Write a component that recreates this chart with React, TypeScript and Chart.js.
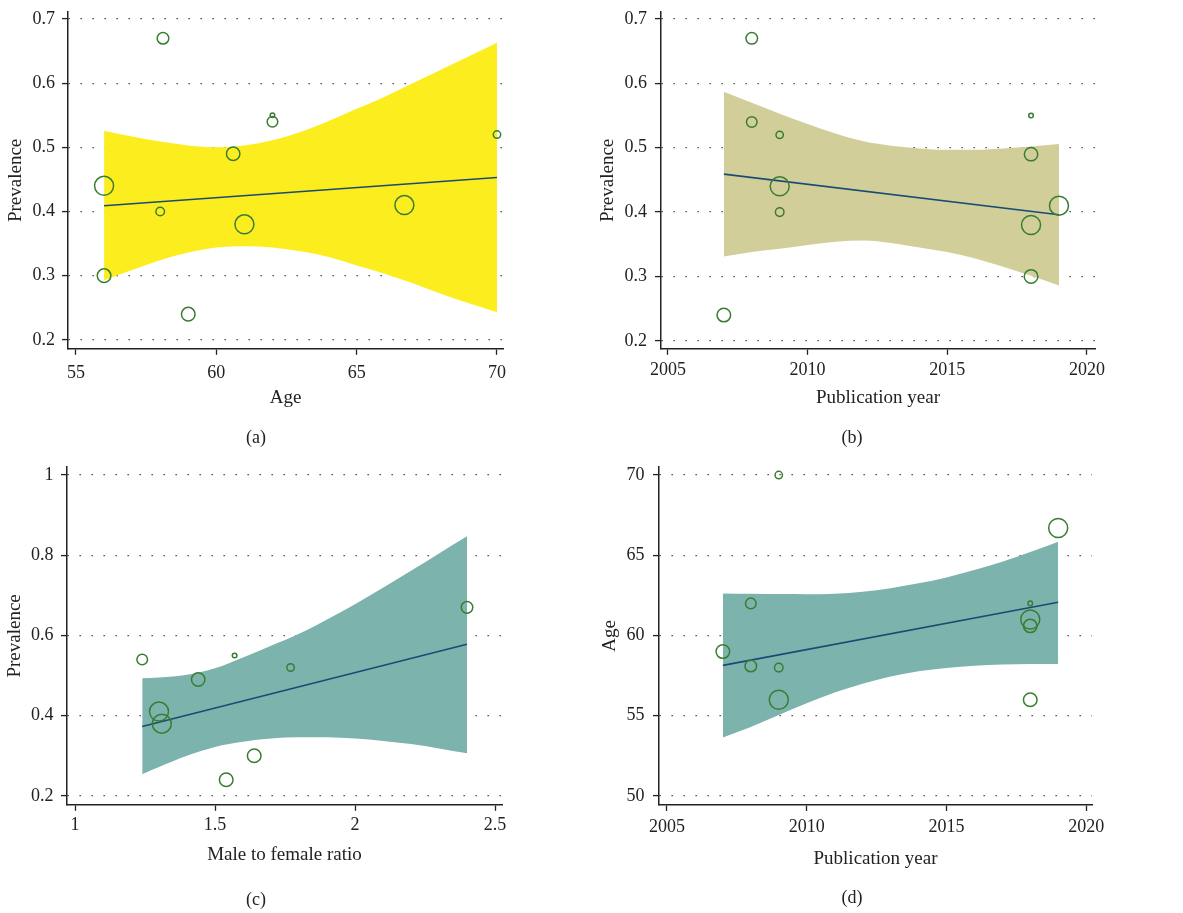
import React, { useEffect, useRef } from 'react';
import { Chart, registerables } from 'chart.js';

Chart.register(...registerables);

const FONT = "'Liberation Serif', 'Times New Roman', serif";
const TEXT = '#222222';
const AXIS = '#222222';
const GREEN = '#3a7d32';
const NAVY = '#1a4b73';

// ---- Study-level data (one entry per study) ----
const studyAge = [58.1, 62, 70, 56, 58, 59, 62, 60.6, 61, 56, 66.7];
const studyYear = [2008, 2008, 2009, 2009, 2009, 2007, 2018, 2018, 2018, 2018, 2019];
const studyPrevalence = [0.67, 0.54, 0.52, 0.44, 0.4, 0.24, 0.55, 0.49, 0.38, 0.3, 0.41];
const studyRatio: (number | null)[] = [2.4, 1.24, 1.77, null, null, 1.54, 1.57, 1.44, 1.31, 1.64, 1.3];
const studyWeight = [5.8, 5.3, 3.7, 9.5, 4.3, 6.8, 2.3, 6.7, 9.5, 6.8, 9.5];

// ---- (a) Prevalence vs Age ----
const ageBandX = [56, 57, 58, 59, 60, 61, 62, 63, 64, 65, 66, 67, 68, 69, 70];
const ageBandUpper = [0.526, 0.517, 0.509, 0.503, 0.5, 0.503, 0.511, 0.524, 0.541, 0.56, 0.579, 0.6, 0.621, 0.642, 0.663];
const ageBandLower = [0.293, 0.309, 0.324, 0.336, 0.344, 0.346, 0.344, 0.338, 0.329, 0.316, 0.303, 0.288, 0.272, 0.257, 0.243];
const ageFitX = [56, 70];
const ageFitY = [0.409, 0.453];

// ---- (b) Prevalence vs Publication year ----
const yearBandX = [2007, 2008, 2009, 2010, 2011, 2012, 2013, 2014, 2015, 2016, 2017, 2018, 2019];
const yearPrevUpper = [0.587, 0.57, 0.553, 0.537, 0.522, 0.51, 0.503, 0.499, 0.497, 0.497, 0.499, 0.502, 0.506];
const yearPrevLower = [0.331, 0.338, 0.343, 0.349, 0.354, 0.356, 0.352, 0.345, 0.338, 0.328, 0.315, 0.301, 0.286];
const yearPrevFitX = [2007, 2019];
const yearPrevFitY = [0.459, 0.396];

// ---- (c) Prevalence vs Male to female ratio ----
const ratioBandX = [1.24, 1.3, 1.4, 1.5, 1.6, 1.7, 1.8, 1.9, 2.0, 2.1, 2.2, 2.3, 2.4];
const ratioBandUpper = [0.493, 0.495, 0.502, 0.518, 0.545, 0.574, 0.604, 0.64, 0.678, 0.719, 0.761, 0.804, 0.847];
const ratioBandLower = [0.254, 0.272, 0.3, 0.322, 0.335, 0.343, 0.346, 0.346, 0.343, 0.337, 0.329, 0.318, 0.306];
const ratioFitX = [1.24, 2.4];
const ratioFitY = [0.373, 0.578];

// ---- (d) Age vs Publication year ----
const yearAgeUpper = [62.62, 62.6, 62.58, 62.57, 62.6, 62.72, 62.95, 63.25, 63.62, 64.08, 64.6, 65.2, 65.85];
const yearAgeLower = [53.65, 54.3, 55.05, 55.78, 56.45, 57.0, 57.45, 57.78, 57.98, 58.12, 58.2, 58.23, 58.22];
const yearAgeFitX = [2007, 2019];
const yearAgeFitY = [58.14, 62.07];

// ---- Tick labels ----
const ageTicks = [55, 60, 65, 70];
const yearTicks = [2005, 2010, 2015, 2020];
const ratioTicks = [1, 1.5, 2, 2.5];
const prevTicksAB = [0.2, 0.3, 0.4, 0.5, 0.6, 0.7];
const prevTicksC = [0.2, 0.4, 0.6, 0.8, 1];
const ageTicksD = [50, 55, 60, 65, 70];

type Pt = { x: number; y: number };

const zipPts = (xs: number[], ys: number[]): Pt[] => xs.map((x, i) => ({ x, y: ys[i] }));

const bubbles = (xs: (number | null)[], ys: number[]) =>
  xs
    .map((x, i) => (x === null ? null : { x, y: ys[i], r: studyWeight[i] }))
    .filter((p) => p !== null) as { x: number; y: number; r: number }[];

type Spec = {
  key: string;
  left: number;
  top: number;
  w: number;
  h: number;
  caption: string;
  xTitle: string;
  yTitle: string;
  xMin: number;
  xMax: number;
  yMin: number;
  yMax: number;
  xTicks: number[];
  yTicks: number[];
  points: { x: number; y: number; r: number }[];
  upper: Pt[];
  lower: Pt[];
  fit: Pt[];
  band: string;
  padTop: number;
  padRight: number;
  padLeft: number;
  yWidth: number;
  xHeight: number;
  yTitlePad: number;
  yTickPad: number;
  xTickPad: number;
  capTop: number;
  capBottom: number;
};

const specs: Spec[] = [
  {
    key: 'a', left: 0, top: 0, w: 590, h: 450, caption: '(a)', xTitle: 'Age', yTitle: 'Prevalence',
    xMin: 54.715, xMax: 70.214, yMin: 0.186, yMax: 0.711, xTicks: ageTicks, yTicks: prevTicksAB,
    points: bubbles(studyAge, studyPrevalence),
    upper: zipPts(ageBandX, ageBandUpper), lower: zipPts(ageBandX, ageBandLower), fit: zipPts(ageFitX, ageFitY),
    band: '#fcee1e',
    padTop: 12, padRight: 87, padLeft: 9, yWidth: 59, xHeight: 64, yTitlePad: -4.8, yTickPad: 7, xTickPad: 8,
    capTop: 14.4, capBottom: 1.2,
  },
  {
    key: 'b', left: 590, top: 0, w: 593, h: 450, caption: '(b)', xTitle: 'Publication year', yTitle: 'Prevalence',
    xMin: 2004.75, xMax: 2020.29, yMin: 0.1876, yMax: 0.7109, xTicks: yearTicks, yTicks: prevTicksAB,
    points: bubbles(studyYear, studyPrevalence),
    upper: zipPts(yearBandX, yearPrevUpper), lower: zipPts(yearBandX, yearPrevLower), fit: zipPts(yearPrevFitX, yearPrevFitY),
    band: '#d1ce9a',
    padTop: 12, padRight: 88, padLeft: 19, yWidth: 52, xHeight: 64, yTitlePad: -12, yTickPad: 8, xTickPad: 5,
    capTop: 14.4, capBottom: 1.2,
  },
  {
    key: 'c', left: 0, top: 450, w: 590, h: 463, caption: '(c)', xTitle: 'Male to female ratio', yTitle: 'Prevalence',
    xMin: 0.9714, xMax: 2.525, yMin: 0.1776, yMax: 1.02, xTicks: ratioTicks, yTicks: prevTicksC,
    points: bubbles(studyRatio, studyPrevalence),
    upper: zipPts(ratioBandX, ratioBandUpper), lower: zipPts(ratioBandX, ratioBandLower), fit: zipPts(ratioFitX, ratioFitY),
    band: '#7db3ad',
    padTop: 17, padRight: 88, padLeft: 10, yWidth: 57, xHeight: 65, yTitlePad: -6.3, yTickPad: 7.5, xTickPad: 4,
    capTop: 19.4, capBottom: 2.2,
  },
  {
    key: 'd', left: 590, top: 450, w: 593, h: 463, caption: '(d)', xTitle: 'Publication year', yTitle: 'Age',
    xMin: 2004.714, xMax: 2020.21, yMin: 49.44, yMax: 70.5, xTicks: yearTicks, yTicks: ageTicksD,
    points: bubbles(studyYear, studyAge),
    upper: zipPts(yearBandX, yearAgeUpper), lower: zipPts(yearBandX, yearAgeLower), fit: zipPts(yearAgeFitX, yearAgeFitY),
    band: '#7db3ad',
    padTop: 17, padRight: 91, padLeft: 22, yWidth: 47, xHeight: 69, yTitlePad: -13.3, yTickPad: 8.5, xTickPad: 5,
    capTop: 13.2, capBottom: 4.2,
  },
];

function buildConfig(s: Spec): any {
  const font = { family: FONT, size: 18, weight: 'normal' as const };
  const titleFont = { family: FONT, size: 19, weight: 'normal' as const };
  return {
    type: 'line',
    data: {
      datasets: [
        {
          type: 'bubble',
          data: s.points,
          backgroundColor: 'rgba(0,0,0,0)',
          borderColor: GREEN,
          borderWidth: 1.5,
          hoverBorderWidth: 1.5,
        },
        {
          type: 'line',
          data: s.fit,
          borderColor: NAVY,
          borderWidth: 1.6,
          pointRadius: 0,
          fill: false,
          tension: 0,
        },
        {
          type: 'line',
          data: s.lower,
          borderColor: s.band,
          borderWidth: 0,
          pointRadius: 0,
          fill: false,
          cubicInterpolationMode: 'monotone',
        },
        {
          type: 'line',
          data: s.upper,
          borderColor: s.band,
          backgroundColor: s.band,
          borderWidth: 0,
          pointRadius: 0,
          fill: '-1',
          cubicInterpolationMode: 'monotone',
        },
      ],
    },
    options: {
      responsive: false,
      animation: false,
      events: [],
      layout: { padding: { top: s.padTop, right: s.padRight, left: s.padLeft, bottom: 0 } },
      plugins: {
        legend: { display: false },
        tooltip: { enabled: false },
        title: {
          display: true,
          position: 'bottom',
          text: s.caption,
          color: TEXT,
          font,
          padding: { top: s.capTop, bottom: s.capBottom },
        },
      },
      scales: {
        x: {
          type: 'linear',
          min: s.xMin,
          max: s.xMax,
          afterBuildTicks: (sc: any) => {
            sc.ticks = s.xTicks.map((v) => ({ value: v }));
          },
          afterFit: (sc: any) => {
            sc.height = s.xHeight;
            sc.paddingLeft = 0;
            sc.paddingRight = 0;
          },
          ticks: {
            padding: s.xTickPad,
            color: TEXT,
            font,
            maxRotation: 0,
            autoSkip: false,
            callback: (v: any) => String(v),
          },
          grid: {
            display: true,
            drawOnChartArea: false,
            drawTicks: true,
            tickLength: 6,
            tickColor: AXIS,
            tickWidth: 1.3,
          },
          border: { display: true, color: AXIS, width: 1.5 },
          title: { display: true, text: s.xTitle, color: TEXT, font: titleFont, padding: { top: 0, bottom: 3.5 } },
        },
        y: {
          type: 'linear',
          min: s.yMin,
          max: s.yMax,
          afterBuildTicks: (sc: any) => {
            sc.ticks = s.yTicks.map((v) => ({ value: v }));
          },
          afterFit: (sc: any) => {
            sc.width = s.yWidth;
            sc.paddingTop = 0;
            sc.paddingBottom = 0;
          },
          ticks: {
            padding: s.yTickPad,
            color: TEXT,
            font,
            autoSkip: false,
            callback: (v: any) => String(v),
          },
          grid: {
            display: true,
            drawOnChartArea: true,
            drawTicks: true,
            color: '#333333',
            lineWidth: 1.2,
            tickLength: 6,
            tickColor: AXIS,
            tickWidth: 1.3,
            tickBorderDash: [],
          },
          border: { display: true, color: AXIS, width: 1.5, dash: [1.3, 10.7] },
          title: { display: true, text: s.yTitle, color: TEXT, font: titleFont, padding: { top: s.yTitlePad, bottom: 0 } },
        },
      },
    },
  };
}

function Panel({ spec }: { spec: Spec }) {
  const ref = useRef<HTMLCanvasElement>(null);
  useEffect(() => {
    if (!ref.current) return;
    const chart = new Chart(ref.current, buildConfig(spec));
    return () => chart.destroy();
  }, [spec]);
  return (
    <canvas
      ref={ref}
      width={spec.w}
      height={spec.h}
      style={{ position: 'absolute', left: spec.left, top: spec.top, width: spec.w, height: spec.h }}
    />
  );
}

export default function App() {
  return (
    <div style={{ position: 'absolute', left: 0, top: 0, width: 1183, height: 913, background: '#ffffff' }}>
      {specs.map((s) => (
        <Panel key={s.key} spec={s} />
      ))}
    </div>
  );
}
